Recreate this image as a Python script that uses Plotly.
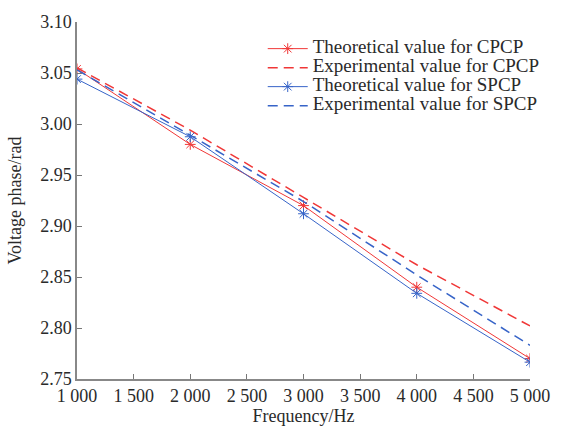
import plotly.graph_objects as go

freq = [1000, 2000, 3000, 4000, 5000]
theo_cpcp = [3.054, 2.980, 2.920, 2.840, 2.770]
exp_cpcp = [3.055, 2.994, 2.928, 2.862, 2.802]
theo_spcp = [3.044, 2.9875, 2.912, 2.834, 2.7665]
exp_spcp = [3.053, 2.989, 2.924, 2.852, 2.783]

names = ["Theoretical value for CPCP", "Experimental value for CPCP",
         "Theoretical value for SPCP", "Experimental value for SPCP"]

x_ticks = [1000, 1500, 2000, 2500, 3000, 3500, 4000, 4500, 5000]
x_ticktext = ["1 000", "1 500", "2 000", "2 500", "3 000", "3 500", "4 000", "4 500", "5 000"]
y_ticks = [2.75, 2.80, 2.85, 2.90, 2.95, 3.00, 3.05, 3.10]
y_ticktext = ["2.75", "2.80", "2.85", "2.90", "2.95", "3.00", "3.05", "3.10"]

RED = "rgb(240,55,55)"
BLUE = "rgb(55,100,200)"
FONT = "Liberation Serif"
TXT = "#2a2a2a"


def lbl(s):
    return '<span style="font-size:19px">' + s + '</span>'


fig = go.Figure()
fig.add_trace(go.Scatter(x=freq, y=theo_cpcp, mode="lines+markers", name=lbl(names[0]),
                         line=dict(color=RED, width=1),
                         marker=dict(symbol="asterisk-open", size=9, color=RED, line=dict(color=RED, width=1))))
fig.add_trace(go.Scatter(x=freq, y=exp_cpcp, mode="lines", name=lbl(names[1]),
                         line=dict(color=RED, width=1.5, dash="10px,6px")))
fig.add_trace(go.Scatter(x=freq, y=theo_spcp, mode="lines+markers", name=lbl(names[2]),
                         line=dict(color=BLUE, width=1),
                         marker=dict(symbol="asterisk-open", size=9, color=BLUE, line=dict(color=BLUE, width=1))))
fig.add_trace(go.Scatter(x=freq, y=exp_spcp, mode="lines", name=lbl(names[3]),
                         line=dict(color=BLUE, width=1.5, dash="10px,6px")))

fig.update_layout(
    width=562, height=432,
    margin=dict(l=77, r=19, t=12, b=53),
    paper_bgcolor="white", plot_bgcolor="white",
    font=dict(family=FONT, size=18, color=TXT),
    showlegend=True,
    legend=dict(x=0.41, y=0.966, xanchor="left", yanchor="top",
                bgcolor="rgba(0,0,0,0)", font=dict(family=FONT, size=12, color=TXT),
                tracegroupgap=0, itemwidth=40),
    xaxis=dict(range=[1000, 5000], tickvals=x_ticks, ticktext=x_ticktext,
               ticks="inside", ticklen=5, tickcolor="#777", showline=True, linecolor="#888", linewidth=1.5,
               showgrid=False, zeroline=False, tickfont=dict(family=FONT, size=18, color=TXT),
               ticklabeloverflow="allow",
               title=dict(text="Frequency/Hz", font=dict(family=FONT, size=18, color=TXT), standoff=0)),
    yaxis=dict(range=[2.75, 3.10], tickvals=y_ticks, ticktext=y_ticktext,
               ticks="inside", ticklen=5, tickcolor="#777", showline=True, linecolor="#888", linewidth=1.5,
               showgrid=False, zeroline=False, tickfont=dict(family=FONT, size=18, color=TXT),
               title=dict(text="Voltage phase/rad", font=dict(family=FONT, size=18, color=TXT), standoff=14)),
)

fig.write_html("out.html")
